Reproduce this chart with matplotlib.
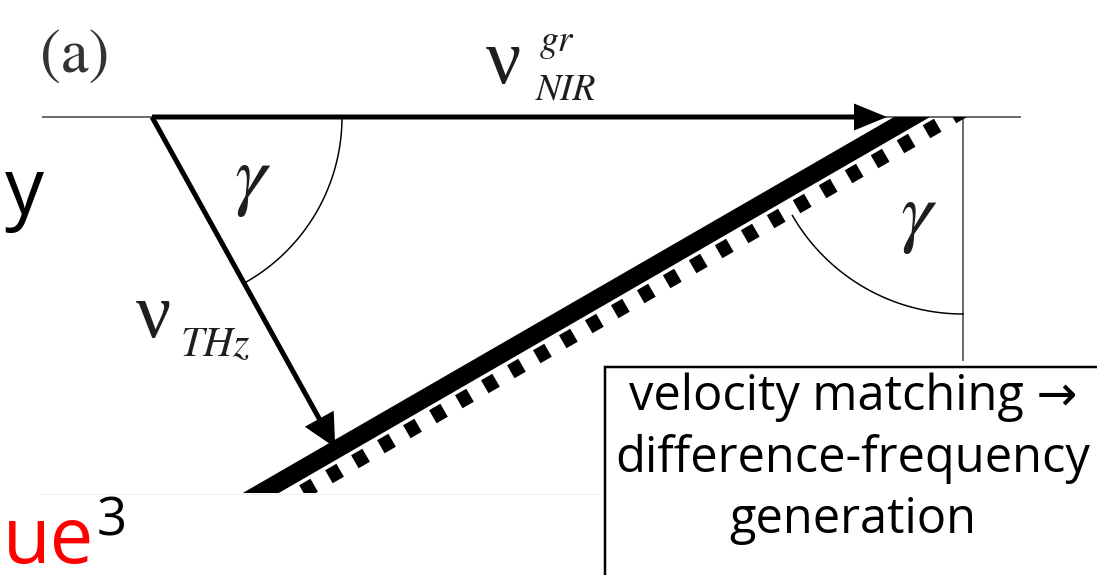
import numpy as np
import matplotlib
matplotlib.use("Agg")
import matplotlib.pyplot as plt
from matplotlib.patches import FancyArrow, Rectangle
from matplotlib.collections import LineCollection

# geometry of the sketch, in picture pixels (y grows downward)
W, H = 1097, 575
vertex = (152, 117)          # where the THz arrow leaves the top line
top_y = 117                  # horizontal reference line
top_line_x = [43, 1020]
nir_tip_x = 887              # tip of the group-velocity arrow
gamma_deg = 61               # tilt angle gamma
thz_length = 378
band_deg = 30                # tilt of the pulse front
band_top_x = 912             # where the band centre meets the top line
band_width = 18
band_bottom_y = 493          # lower edge of the pasted figure
dash_offset = 20
dash_period = 30
dash_len = 13
dash_width = 15
vert_x = 963                 # right-hand vertical reference line
vert_end_y = 360
arc_r_left = 190
arc_r_right = 197

box_left, box_top = 605, 367
box_lines = ["velocity matching \u2192", "difference-frequency", "generation"]
box_baselines = [410, 472, 533]
box_text_width = 474         # width of the widest line in the reference

PX = 0.72  # points per pixel at dpi 100

fig = plt.figure(figsize=(W / 100, H / 100), dpi=100)
ax = fig.add_axes([0, 0, 1, 1])
ax.set_xlim(0, W)
ax.set_ylim(H, 0)
ax.axis("off")

serif = "STIXGeneral"
greek = "Liberation Serif"
sans = ["Open Sans", "DejaVu Sans"]
ink = "#1e1e1e"

# thin grey reference lines
ax.plot(top_line_x, [top_y, top_y], color="#6e6e6e", lw=2 * PX, zorder=2)
ax.plot([vert_x, vert_x], [top_y, vert_end_y], color="#6e6e6e", lw=2 * PX, zorder=2)
ax.plot([40, 600], [band_bottom_y + 1, band_bottom_y + 1], color="#f2f2f2", lw=1, zorder=1)

# pulse front: thick black band
u = np.array([np.cos(np.radians(band_deg)), -np.sin(np.radians(band_deg))])
nrm = np.array([-u[1], u[0]])
c0 = np.array([band_top_x, top_y])
p1 = c0 + 60 * u
p2 = c0 - 1000 * u
band, = ax.plot([p1[0], p2[0]], [p1[1], p2[1]], color="black",
                lw=band_width * PX, solid_capstyle="butt", zorder=3)
band.set_clip_path(Rectangle((0, top_y), W, band_bottom_y - top_y, transform=ax.transData))

# dashed stripe below it
d0 = c0 + dash_offset * nrm
d0 = d0 + (top_y - d0[1]) / u[1] * u
s = np.arange(23 - dash_period, 1000, dash_period)
segs = [[d0 - (si - dash_len / 2) * u, d0 - (si + dash_len / 2) * u] for si in s]
dashes = LineCollection(segs, colors="black", linewidths=dash_width * PX,
                        capstyle="butt", zorder=3)
ax.add_collection(dashes)
dashes.set_clip_path(Rectangle((0, top_y), W, band_bottom_y - top_y, transform=ax.transData))

# group velocity arrow along the top line
ax.add_patch(FancyArrow(vertex[0], top_y, nir_tip_x - vertex[0], 0, width=5,
                        head_width=27, head_length=33, length_includes_head=True,
                        color="black", lw=0, zorder=4))

# THz arrow
g = np.radians(gamma_deg)
ax.add_patch(FancyArrow(vertex[0], vertex[1], thz_length * np.cos(g), thz_length * np.sin(g),
                        width=5, head_width=33, head_length=33, length_includes_head=True,
                        color="black", lw=0, zorder=4))

# angle arcs
t = np.linspace(0, g, 60)
ax.plot(vertex[0] + arc_r_left * np.cos(t), vertex[1] + arc_r_left * np.sin(t),
        color="black", lw=1.5 * PX, zorder=2)
t = np.linspace(np.pi / 2, np.pi / 2 + np.radians(90 - band_deg), 60)
ax.plot(vert_x + arc_r_right * np.cos(t), top_y + arc_r_right * np.sin(t),
        color="black", lw=1.5 * PX, zorder=2)

# labels of the figure
ax.text(40, 72, "(a)", family=serif, fontsize=45, color="#333333", va="baseline")
ax.text(486, 83, "\u03bd", family=greek, fontsize=56, color=ink, va="baseline")
ax.text(540, 51, "gr", family=serif, style="italic", fontsize=27, color=ink, va="baseline")
ax.text(536, 100, "NIR", family=serif, style="italic", fontsize=27, color=ink, va="baseline")
ax.text(136, 337, "\u03bd", family=greek, fontsize=56, color=ink, va="baseline")
ax.text(181, 355, "THz", family=serif, style="italic", fontsize=30, color=ink, va="baseline")
ax.text(251, 181, "\u03b3", family=serif, style="italic", fontsize=58, color=ink,
        ha="center", va="center")
ax.text(917, 218, "\u03b3", family=serif, style="italic", fontsize=58, color=ink,
        ha="center", va="center")

# slide text around the figure
ax.text(44, 214, "y", family=sans, fontsize=56, color="black", ha="right", va="baseline")
ax.text(3, 563, "ue", family=sans, fontsize=56, color="red", va="baseline")
ax.text(97, 535, "3", family=sans, fontsize=38, color="black", va="baseline")

# text box, font size fitted to the reference line width
ax.add_patch(Rectangle((box_left, box_top), 600, 300, facecolor="white",
                       edgecolor="black", lw=2.5 * PX, zorder=5))
texts = [ax.text(853, yb, line, family=sans, fontsize=30, color="black",
                 ha="center", va="baseline", zorder=6)
         for line, yb in zip(box_lines, box_baselines)]
r = fig.canvas.get_renderer()
widest = max(tx.get_window_extent(r).width for tx in texts)
for tx in texts:
    tx.set_fontsize(30 * box_text_width / widest)

fig.savefig("out.png", dpi=100)
